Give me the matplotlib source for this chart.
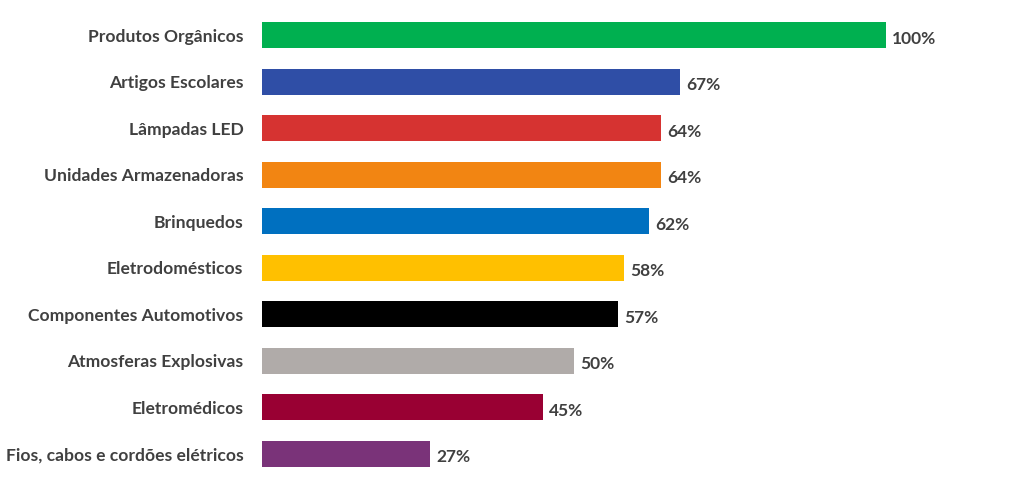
import matplotlib.pyplot as plt

categories = ['Produtos Orgânicos', 'Artigos Escolares', 'Lâmpadas LED',
              'Unidades Armazenadoras', 'Brinquedos', 'Eletrodomésticos',
              'Componentes Automotivos', 'Atmosferas Explosivas',
              'Eletromédicos', 'Fios, cabos e cordões elétricos']
values = [100, 67, 64, 64, 62, 58, 57, 50, 45, 27]
colors = ['#00B050', '#2F4EA6', '#D63331', '#F28512', '#0070C0',
          '#FFC000', '#000000', '#B0ABA9', '#990033', '#7A3379']

plt.rcParams['font.family'] = ['Lato', 'DejaVu Sans']

fig = plt.figure(figsize=(10.24, 4.9), dpi=100)
ax = fig.add_axes([0.2559, 0.0265, 0.609, 0.9495])

pos = list(range(len(categories)))
ax.barh(pos, values, height=0.56, color=colors)
for p, v in zip(pos, values):
    ax.text(v + 1.0, p + 0.08, f'{v}%', va='center', ha='left',
            fontsize=12.5, fontweight='bold', color='#404040')

ax.set_yticks(pos)
ax.set_yticklabels(categories, fontsize=12.6, fontweight='bold', color='#404040')
ax.set_ylim(-0.5, len(categories) - 0.5)
ax.invert_yaxis()
ax.set_xlim(0, 100)
ax.set_xticks([])
ax.tick_params(axis='y', length=0, pad=13.5)
for s in ax.spines.values():
    s.set_visible(False)

fig.savefig('out.png', dpi=100)
